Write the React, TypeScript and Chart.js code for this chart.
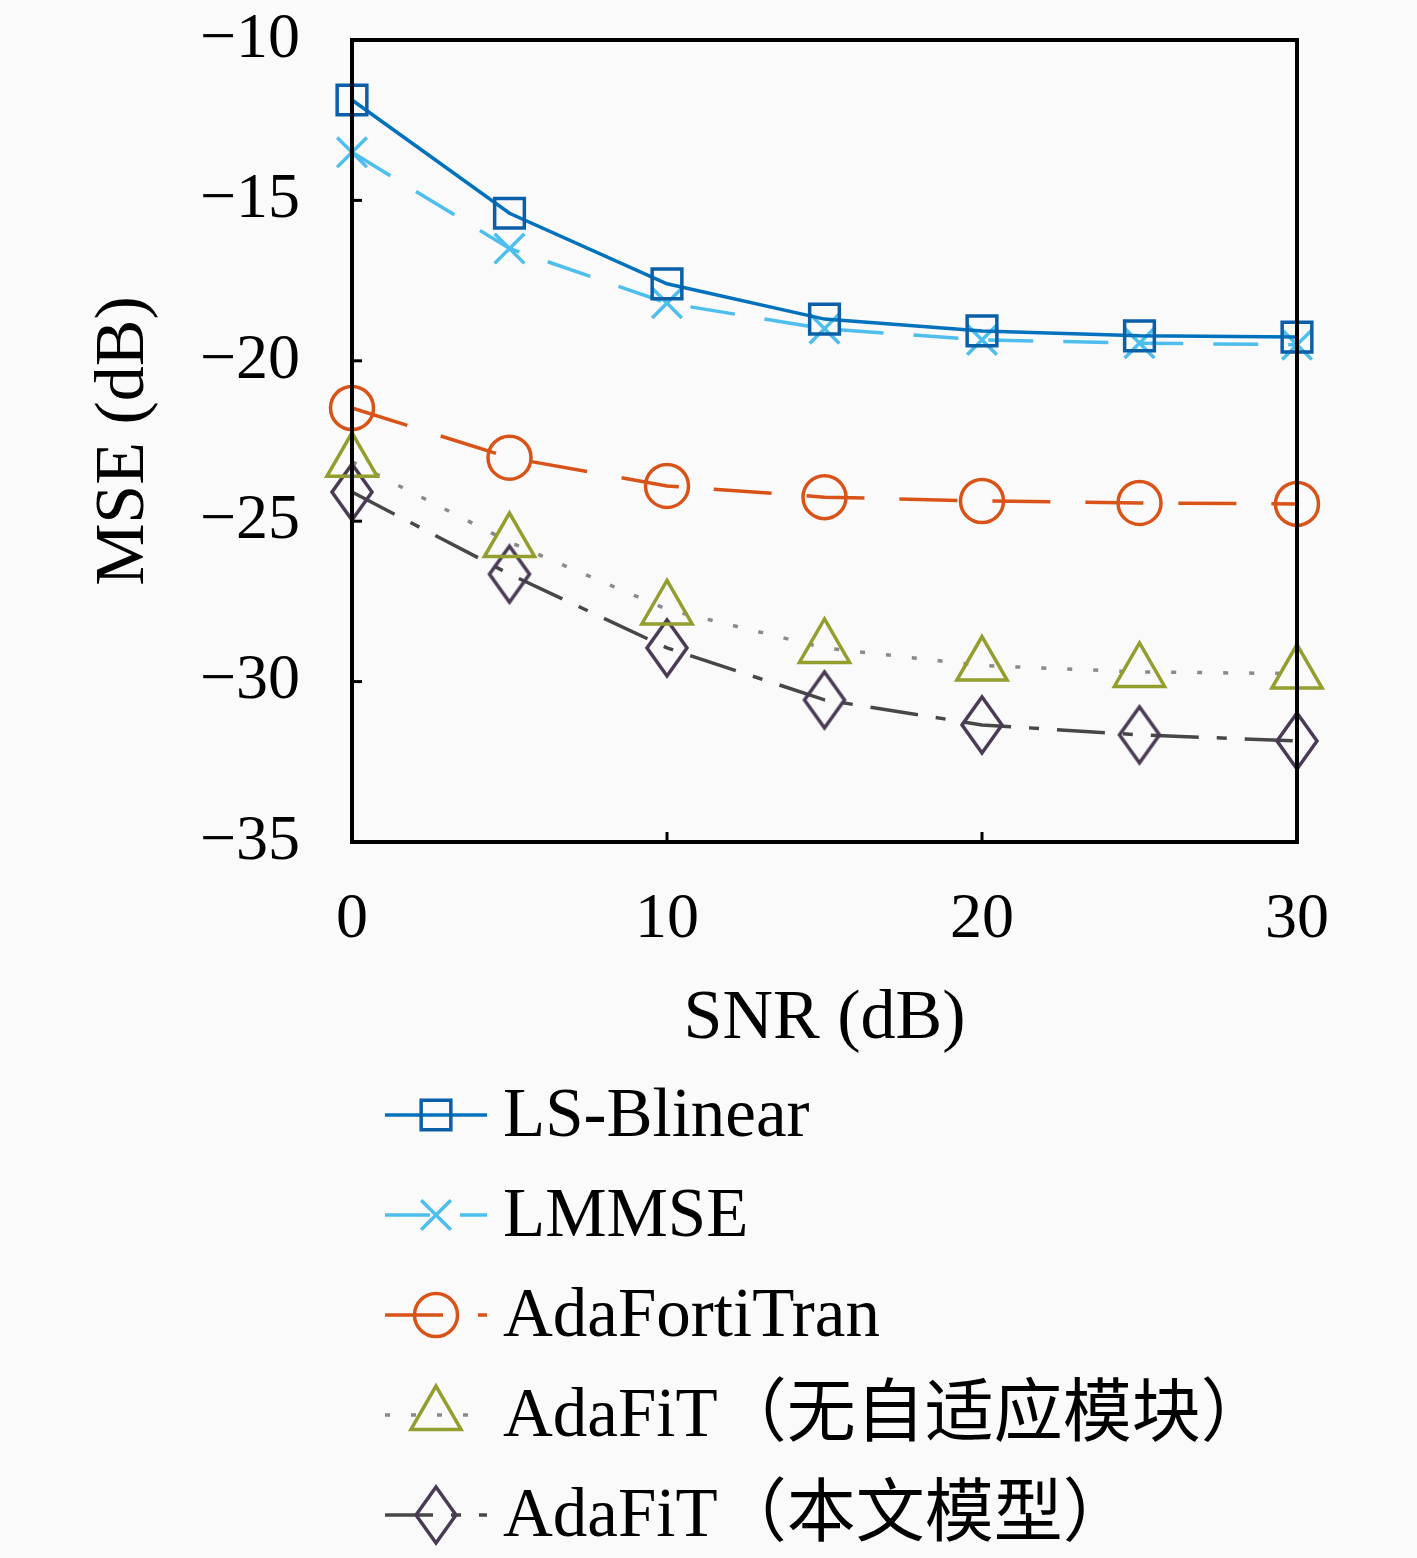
import { useEffect, useRef } from "react";
import { Chart, registerables, type Plugin } from "chart.js";
import { drawPoint } from "chart.js/helpers";

Chart.register(...registerables);

// SNR (dB) on the x axis
const snr = [0, 5, 10, 15, 20, 25, 30];

// MSE (dB) per method
const lsBlinear = [-11.87, -15.4, -17.6, -18.7, -19.07, -19.22, -19.26];
const lmmse = [-13.5, -16.5, -18.2, -19.0, -19.35, -19.45, -19.5];
const adaFortiTran = [-21.47, -23.02, -23.9, -24.25, -24.37, -24.43, -24.46];
const adaFiTNoAdapt = [-23.15, -25.65, -27.75, -28.95, -29.5, -29.7, -29.75];
const adaFiT = [-24.09, -26.65, -28.95, -30.57, -31.35, -31.66, -31.85];

const seriesNames = [
  "LS-Blinear",
  "LMMSE",
  "AdaFortiTran",
  "AdaFiT（无自适应模块）",
  "AdaFiT（本文模型）",
];

const xTicks = [0, 10, 20, 30];
const yTicks = [-35, -30, -25, -20, -15, -10];
const yTickLabels = ["−35", "−30", "−25", "−20", "−15", "−10"];

const FONT = '"Liberation Serif", "Noto Sans CJK SC", serif';

function makeDiamond(color: string) {
  const c = document.createElement("canvas");
  c.width = 46;
  c.height = 62;
  const g = c.getContext("2d")!;
  g.strokeStyle = color;
  g.lineWidth = 3.5;
  g.beginPath();
  g.moveTo(23, 3);
  g.lineTo(43, 31);
  g.lineTo(23, 59);
  g.lineTo(3, 31);
  g.closePath();
  g.stroke();
  return c;
}

const background: Plugin<"line"> = {
  id: "background",
  beforeDraw(chart) {
    const { ctx, width, height } = chart;
    ctx.save();
    ctx.fillStyle = "#fafafa";
    ctx.fillRect(0, 0, width, height);
    ctx.restore();
  },
};

// box around the plot plus short inward ticks (drawn over the lines, like the original)
const frame: Plugin<"line"> = {
  id: "frame",
  afterDatasetsDraw(chart) {
    const { ctx, chartArea: a, scales } = chart;
    ctx.save();
    ctx.strokeStyle = "#000";
    ctx.lineWidth = 3;
    yTicks.forEach((v) => {
      const y = scales.y.getPixelForValue(v);
      ctx.beginPath();
      ctx.moveTo(a.left, y);
      ctx.lineTo(a.left + 10, y);
      ctx.stroke();
    });
    xTicks.forEach((v) => {
      const x = scales.x.getPixelForValue(v);
      ctx.beginPath();
      ctx.moveTo(x, a.bottom);
      ctx.lineTo(x, a.bottom - 10);
      ctx.stroke();
    });
    ctx.lineWidth = 4;
    ctx.strokeRect(a.left, a.top, a.right - a.left, a.bottom - a.top);
    ctx.restore();
  },
};

const lineLegend: Plugin<"line"> = {
  id: "lineLegend",
  afterDraw(chart) {
    const { ctx } = chart;
    chart.data.datasets.forEach((ds: any, i) => {
      const y = 1115 + i * 100;
      ctx.save();
      ctx.strokeStyle = ds.borderColor;
      ctx.lineWidth = ds.borderWidth;
      ctx.setLineDash(ds.borderDash || []);
      ctx.beginPath();
      ctx.moveTo(385, y);
      ctx.lineTo(487, y);
      ctx.stroke();
      ctx.setLineDash([]);
      ctx.strokeStyle = ds.pointBorderColor;
      ctx.fillStyle = "rgba(0,0,0,0)";
      ctx.lineWidth = ds.pointBorderWidth;
      drawPoint(
        ctx,
        {
          pointStyle: ds.pointStyle,
          radius: ds.pointRadius,
          borderWidth: ds.pointBorderWidth,
          rotation: 0,
        },
        436,
        y
      );
      ctx.fillStyle = "#000";
      ctx.font = `69px ${FONT}`;
      ctx.textBaseline = "middle";
      ctx.fillText(ds.label, 503, y + 3);
      ctx.restore();
    });
  },
};

export default function App() {
  const canvasRef = useRef<HTMLCanvasElement>(null);

  useEffect(() => {
    if (!canvasRef.current) return;

    const common = {
      borderWidth: 3.5,
      pointBorderWidth: 3.5,
      pointBackgroundColor: "rgba(0,0,0,0)",
      tension: 0,
      clip: false as const,
    };

    const chart = new Chart(canvasRef.current, {
      type: "line",
      data: {
        datasets: [
          {
            ...common,
            label: seriesNames[0],
            data: snr.map((x, i) => ({ x, y: lsBlinear[i] })),
            borderColor: "#0072BD",
            pointBorderColor: "#0a5fa8",
            pointStyle: "rect",
            pointRadius: 21,
          },
          {
            ...common,
            label: seriesNames[1],
            data: snr.map((x, i) => ({ x, y: lmmse[i] })),
            borderColor: "#4DBEEE",
            pointBorderColor: "#4DBEEE",
            borderDash: [45, 30],
            pointStyle: "crossRot",
            pointRadius: 21,
          },
          {
            ...common,
            label: seriesNames[2],
            data: snr.map((x, i) => ({ x, y: adaFortiTran[i] })),
            borderColor: "#D95319",
            pointBorderColor: "#D95319",
            borderDash: [58, 35],
            pointStyle: "circle",
            pointRadius: 21.5,
          },
          {
            ...common,
            label: seriesNames[3],
            data: snr.map((x, i) => ({ x, y: adaFiTNoAdapt[i] })),
            borderColor: "#8a8a8a",
            pointBorderColor: "#949e2e",
            borderDash: [5, 21],
            pointStyle: "triangle",
            pointRadius: 29,
          },
          {
            ...common,
            label: seriesNames[4],
            data: snr.map((x, i) => ({ x, y: adaFiT[i] })),
            borderColor: "#474747",
            pointBorderColor: "#4b3a55",
            borderDash: [48, 18, 10, 18],
            pointStyle: makeDiamond("#4b3a55"),
            pointRadius: 20,
          },
        ],
      },
      options: {
        animation: false,
        responsive: true,
        maintainAspectRatio: false,
        layout: { padding: { left: 0, top: 40, right: 120, bottom: 486 } },
        plugins: {
          legend: { display: false },
          tooltip: { enabled: false },
        },
        scales: {
          x: {
            type: "linear",
            min: 0,
            max: 30,
            afterBuildTicks: (scale) => {
              scale.ticks = xTicks.map((value) => ({ value }));
            },
            afterFit: (scale: any) => {
              scale.height = 230;
              scale.paddingLeft = 0;
              scale.paddingRight = 0;
            },
            grid: { display: false, drawTicks: false },
            border: { display: false },
            ticks: {
              color: "#000",
              padding: 40,
              maxRotation: 0,
              font: { family: FONT, size: 64 },
              callback: (v) => String(v),
            },
            title: {
              display: true,
              text: "SNR (dB)",
              color: "#000",
              font: { family: FONT, size: 70 },
              padding: { top: 0, bottom: 10 },
            },
          },
          y: {
            type: "linear",
            min: -35,
            max: -10,
            afterBuildTicks: (scale) => {
              scale.ticks = yTicks.map((value) => ({ value }));
            },
            afterFit: (scale: any) => {
              scale.width = 352;
              scale.paddingTop = 0;
              scale.paddingBottom = 0;
            },
            grid: { display: false, drawTicks: false },
            border: { display: false },
            ticks: {
              color: "#000",
              padding: 52,
              font: { family: FONT, size: 64 },
              callback: (v) => yTickLabels[yTicks.indexOf(Number(v))] ?? "",
            },
            title: {
              display: true,
              text: "MSE (dB)",
              color: "#000",
              font: { family: FONT, size: 70 },
              padding: { top: 83, bottom: 0 },
            },
          },
        },
      },
      plugins: [background, frame, lineLegend],
    });

    return () => chart.destroy();
  }, []);

  return (
    <div style={{ position: "absolute", left: 0, top: 0, width: 1417, height: 1558 }}>
      <canvas ref={canvasRef} />
    </div>
  );
}
